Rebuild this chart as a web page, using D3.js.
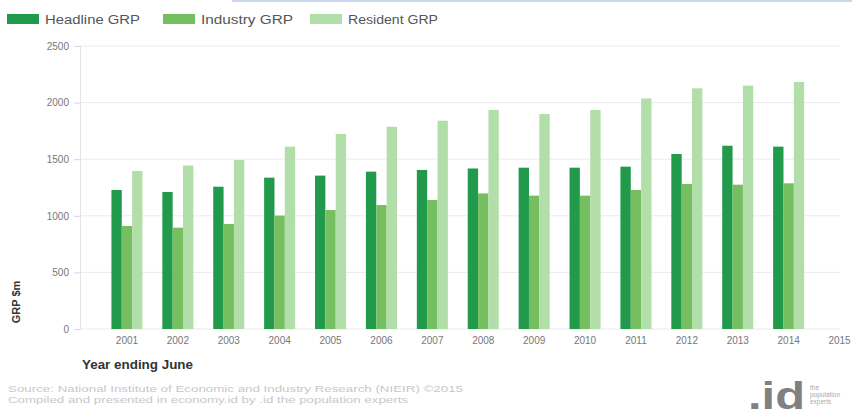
<!DOCTYPE html>
<html><head><meta charset="utf-8">
<script src="https://cdn.jsdelivr.net/npm/d3@7"></script>
<style>body{margin:0;background:#fff;font-family:Arial,"Liberation Sans",sans-serif;}</style>
</head><body><svg id="c" width="852" height="417"></svg>
<script>
const years = ["2001","2002","2003","2004","2005","2006","2007","2008","2009","2010","2011","2012","2013","2014","2015"];
const seriesNames = ["Headline GRP","Industry GRP","Resident GRP"];
const headline = [1228,1210,1257,1337,1355,1390,1405,1418,1425,1425,1434,1546,1619,1611,null];
const industry = [910,895,928,1002,1051,1095,1140,1198,1178,1178,1228,1281,1275,1287,null];
const resident = [1396,1444,1493,1611,1723,1787,1840,1935,1899,1935,2037,2126,2150,2182,null];
const yTicks = [0,500,1000,1500,2000,2500];
const colors = ["#229a4c","#76bf61","#b2dea9"];

const svg = d3.select("#c");
const y = d3.scaleLinear().domain([0,2500]).range([329,46]);
const x = d3.scaleBand().domain(years).range([101.5,865]).paddingInner(0.39).paddingOuter(0.195);
const xs = d3.scaleBand().domain(seriesNames).range([0,x.bandwidth()]);

// top decorative line
svg.append("line").attr("x1",232).attr("x2",852).attr("y1",1).attr("y2",1).attr("stroke","#c9d6f0").attr("stroke-width",2);

// grid
svg.append("g").selectAll("line").data(yTicks).join("line")
  .attr("x1",80).attr("x2",840).attr("y1",d=>y(d)).attr("y2",d=>y(d))
  .attr("stroke","#ebebeb").attr("stroke-width",1);

// y axis
const ya = svg.append("g").attr("transform","translate(80,0)")
  .call(d3.axisLeft(y).tickValues(yTicks).tickFormat(d3.format("d")).tickSize(6).tickPadding(5));
ya.select(".domain").attr("stroke","#e3e3e3");
ya.selectAll(".tick line").attr("stroke","#d8d8d8");
ya.selectAll("text").attr("fill","#777").attr("font-size",10);

// bars
const data = [headline,industry,resident];
data.forEach((vals,si)=>{
  svg.append("g").selectAll("rect").data(years.map((yr,i)=>({yr,v:vals[i]})).filter(d=>d.v!=null))
    .join("rect")
    .attr("x",d=>x(d.yr)+xs(seriesNames[si]))
    .attr("width",xs.bandwidth())
    .attr("y",d=>y(d.v))
    .attr("height",d=>y(0)-y(d.v))
    .attr("fill",colors[si]);
});

// x axis labels
const xa = svg.append("g").attr("transform","translate(0,329)")
  .call(d3.axisBottom(x).tickSize(0).tickPadding(8));
xa.select(".domain").remove();
xa.selectAll("text").attr("fill","#777").attr("font-size",10);

// axis titles
svg.append("text").attr("x",82).attr("y",369).attr("font-size",12).attr("font-weight","bold").attr("fill","#333")
  .attr("textLength",111).attr("lengthAdjust","spacingAndGlyphs").text("Year ending June");
svg.append("text").attr("transform","translate(20,302) rotate(-90)").attr("text-anchor","middle")
  .attr("font-size",11).attr("font-weight","bold").attr("fill","#333").text("GRP $m");

// legend
const lx = [7,163,310];
const lw = [95,92,90];
seriesNames.forEach((n,i)=>{
  svg.append("rect").attr("x",lx[i]).attr("y",14).attr("width",32).attr("height",10).attr("fill",colors[i]);
  svg.append("text").attr("x",lx[i]+38).attr("y",23.5).attr("font-size",12).attr("fill","#555")
    .attr("textLength",lw[i]).attr("lengthAdjust","spacingAndGlyphs").text(n);
});

// footer
svg.append("text").attr("x",8).attr("y",392).attr("font-size",9).attr("fill","#c8c8c8")
  .attr("textLength",455).attr("lengthAdjust","spacingAndGlyphs")
  .text("Source: National Institute of Economic and Industry Research (NIEIR) ©2015");
svg.append("text").attr("x",8).attr("y",403).attr("font-size",9).attr("fill","#c8c8c8")
  .attr("textLength",400).attr("lengthAdjust","spacingAndGlyphs")
  .text("Compiled and presented in economy.id by .id the population experts");
svg.append("text").attr("x",748).attr("y",409).attr("font-size",38).attr("font-weight","bold").attr("fill","#808080")
  .attr("textLength",57).attr("lengthAdjust","spacingAndGlyphs").text(".id");
["the","population","experts"].forEach((t,i)=>{
  svg.append("text").attr("x",810).attr("y",390+i*7).attr("font-size",6.5).attr("fill","#aaa").text(t);
});
</script></body></html>
